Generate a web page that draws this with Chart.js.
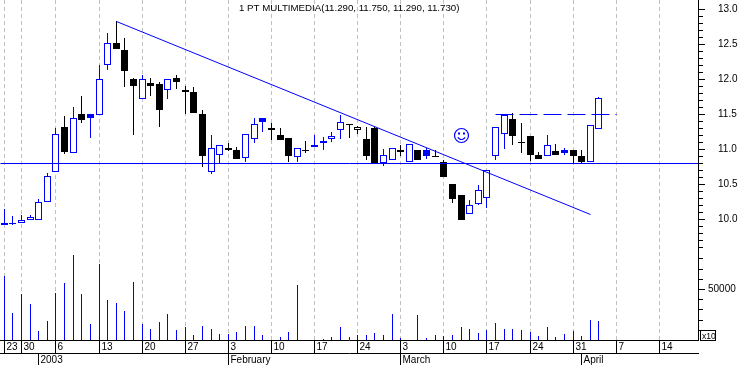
<!DOCTYPE html>
<html>
<head>
<meta charset="utf-8">
<style>html,body{margin:0;padding:0;background:#fff}canvas{display:block}</style>
<script src="https://cdn.jsdelivr.net/npm/chart.js@4"></script>
</head>
<body>
<canvas id="c" width="738" height="365"></canvas>
<script>
const titleText = "1 PT MULTIMEDIA(11.290, 11.750, 11.290, 11.730)";
const opens = [9.92,9.93,9.95,9.99,9.99,10.25,10.67,11.31,10.95,11.50,11.50,11.48,12.20,12.51,12.41,12.00,11.72,11.95,11.93,11.85,12.02,11.84,11.81,11.50,10.67,10.91,11.02,10.99,10.87,11.14,11.44,11.27,11.20,11.16,10.88,10.99,11.05,11.08,11.14,11.27,11.36,11.27,11.14,11.30,10.80,10.85,10.99,10.81,10.98,10.99,10.90,10.82,10.50,10.35,10.07,10.21,10.30,10.90,11.21,11.43,11.10,11.18,10.91,10.90,10.97,10.99,10.98,10.90,10.81,11.29];
const highs = [10.14,10.04,10.06,10.06,10.29,10.66,11.30,11.47,11.60,11.76,11.50,12.20,12.66,12.83,12.59,12.01,12.06,12.01,11.96,12.00,12.06,11.90,11.89,11.56,11.20,11.05,11.09,11.03,11.21,11.44,11.44,11.37,11.30,11.16,11.01,11.11,11.20,11.17,11.24,11.48,11.36,11.33,11.31,11.31,11.00,11.01,11.05,11.07,10.98,11.02,10.98,10.84,10.50,10.35,10.27,10.49,10.70,11.31,11.50,11.52,11.37,11.18,10.96,11.20,11.07,11.02,10.98,10.98,11.35,11.75];
const lows = [9.92,9.91,9.95,9.98,9.99,10.25,10.67,10.93,10.95,11.37,11.16,11.48,12.13,12.43,11.89,11.20,11.72,11.76,11.31,11.71,11.86,11.50,11.52,10.75,10.65,10.80,10.97,10.86,10.81,11.09,11.24,11.13,11.13,10.82,10.82,10.95,11.03,10.99,11.10,11.14,11.16,11.21,10.84,10.80,10.76,10.85,10.90,10.81,10.85,10.86,10.88,10.60,10.23,9.99,10.07,10.20,10.16,10.85,11.00,11.05,10.94,10.83,10.86,10.90,10.92,10.92,10.80,10.80,10.81,11.29];
const closes = [9.95,9.95,9.99,10.03,10.25,10.61,11.21,10.96,11.44,11.42,11.45,12.00,12.51,12.43,12.12,11.90,12.00,11.90,11.55,12.00,11.96,11.82,11.52,10.90,11.02,11.05,10.99,10.86,11.21,11.36,11.39,11.30,11.13,10.90,11.01,10.97,11.03,11.12,11.18,11.38,11.34,11.31,10.90,10.80,10.91,11.01,10.96,11.07,10.85,10.90,10.88,10.60,10.28,9.99,10.20,10.41,10.70,11.31,11.48,11.19,11.08,10.92,10.86,11.05,10.92,10.94,10.90,10.82,11.35,11.73];
const volumes = [62700,26500,45100,35300,8800,18600,46100,55900,83300,45100,15700,74500,39200,36300,28400,56800,15700,10800,17600,25500,9800,12700,4900,13700,10800,5900,5900,7800,13700,13700,4900,0,2900,7800,53900,0,0,1000,2900,12700,2900,4900,4900,6900,4900,25500,2000,0,24500,2000,4900,3900,4900,12700,10800,6900,9800,16700,10800,10800,9800,7800,3900,12700,2900,5900,8800,3900,19600,18600];
const weekTickIndex = [0,2,6,11,16,21,26,31,36,41,46,51,56,61,66,71,76];
const weekTickLabels = ["23","30","6","13","20","27","3","10","17","24","3","10","17","24","31","7","14"];
const monthTickIndex = [4,26,46,67];
const monthTickLabels = ["2003","February","March","April"];
const priceMajorTicks = [10,10.5,11,11.5,12,12.5,13];
const priceMinorTicks = [9.6,9.7,9.8,9.9,10.1,10.2,10.3,10.4,10.6,10.7,10.8,10.9,11.1,11.2,11.3,11.4,11.6,11.7,11.8,11.9,12.1,12.2,12.3,12.4,12.6,12.7,12.8,12.9];
const volumeMajorTicks = [50000];
const volumeMinorTicks = [10000,20000,30000,40000,60000,70000,80000];
const supportLevel = 10.8;
const trendFrom = [13,12.83];
const trendTo = [68,10.07];
const resistanceLevel = 11.5;
const resistanceSpan = [57,71];
const smileyAt = [53,11.2];

const BLUE = "#0000ff", BLACK = "#000000", WHITE = "#ffffff", GRID = "#c0c0c0";
const FONT = {family:"'Liberation Sans', Arial, sans-serif", size:10};
const X_MIN = -4.2/8.62, X_MAX = (698-4.2)/8.62;

const indexes = opens.map((_, i) => i);
const candleColor = indexes.map(i => (i === 0 || closes[i] >= closes[i-1]) ? BLUE : BLACK);
const candleFill = indexes.map(i => closes[i] > opens[i] ? WHITE : candleColor[i]);

function snap(scale, fn){
  if (scale.$snapped) return;
  scale.$snapped = true;
  const orig = Object.getPrototypeOf(scale).getPixelForValue;
  scale.getPixelForValue = function(v){ return fn(orig.call(scale, v)); };
}
function setTicks(values){ return scale => { scale.ticks = values.map(v => ({value:v})); }; }
function fixBox(prop, size){
  return scale => {
    scale[prop] = size;
    scale.paddingLeft = scale.paddingRight = scale.paddingTop = scale.paddingBottom = 0;
  };
}
const PRICE_RANGE = {min: 13 - 331/70, max: 13 + 9/70};
const VOL_RANGE = {min: 0, max: 340/1.02*1000};

function xAxis(values, labels, tickLen, height, weight, onArea){
  return {
    type:"linear", position:"bottom", min:X_MIN, max:X_MAX, bounds:"data", offset:false, weight,
    afterBuildTicks: setTicks(values),
    afterFit: fixBox("height", height),
    afterUpdate: s => snap(s, p => Math.floor(p) + 0.5),
    border:{display:true, color:BLACK, width:1, dash: onArea ? [4,3] : []},
    grid:{display:true, offset:false, drawOnChartArea:onArea, color:GRID, lineWidth:1,
      tickLength:tickLen, tickColor:BLACK, tickWidth:1, tickBorderDash:[]},
    ticks:{autoSkip:false, maxRotation:0, minRotation:0, align:"start", labelOffset:2,
      padding:1 - tickLen, color:BLACK, font:FONT,
      callback:(v, i) => labels[i]},
  };
}
function yAxis(range, values, tickLen, weight, labelOpts){
  return Object.assign({
    type:"linear", position:"right", bounds:"data", weight,
    afterBuildTicks: setTicks(values),
    afterFit: fixBox("width", labelOpts && labelOpts.width !== undefined ? labelOpts.width : 0),
    afterUpdate: s => {
      snap(s, p => Math.round(p));
      s._computeLabelArea = () => undefined;
    },
    border:{display:true, color:BLACK, width:1},
    grid:{drawOnChartArea:false, tickLength:tickLen, tickColor:BLACK, tickWidth:1},
    ticks: labelOpts ? {display:true, autoSkip:false, crossAlign:"near", padding:labelOpts.padding, color:BLACK, font:FONT, callback:labelOpts.cb}
                     : {display:false, autoSkip:false},
  }, range);
}

const overlay = {
  id:"overlay",
  afterDraw(chart){
    const {ctx, scales} = chart;
    ctx.save();
    ctx.fillStyle = BLACK;
    ctx.font = "9.7px " + FONT.family;
    ctx.textBaseline = "alphabetic";
    ctx.textAlign = "left";
    ctx.fillText(titleText, 239, 11);
    ctx.strokeStyle = BLACK; ctx.lineWidth = 1;
    ctx.strokeRect(700.5, 330.5, 15, 10);
    ctx.font = "8.5px " + FONT.family;
    ctx.fillText("x10", 702, 339);
    const cx = scales.x.getPixelForValue(smileyAt[0]);
    const cy = scales.y.getPixelForValue(smileyAt[1]) + 0.5;
    ctx.strokeStyle = BLUE; ctx.fillStyle = BLUE; ctx.lineWidth = 1.2;
    ctx.beginPath(); ctx.arc(cx, cy, 7, 0, Math.PI*2); ctx.stroke();
    ctx.fillRect(cx-3.5, cy-3, 2, 2);
    ctx.fillRect(cx+1.5, cy-3, 2, 2);
    ctx.beginPath(); ctx.arc(cx, cy, 4, Math.PI*0.15, Math.PI*0.85); ctx.stroke();
    ctx.restore();
  }
};

new Chart(document.getElementById("c"), {
  data:{
    datasets:[
      {type:"bar", label:"Volume", xAxisID:"x", yAxisID:"yv", order:5, grouped:false,
       barThickness:1, inflateAmount:0, borderWidth:0, backgroundColor:BLUE,
       data:indexes.map(i => ({x:i, y:volumes[i]}))},
      {type:"bar", label:"Range", xAxisID:"x", yAxisID:"y", order:4, grouped:false,
       barThickness:1, inflateAmount:0, borderWidth:0, backgroundColor:candleColor,
       data:indexes.map(i => ({x:i, y:[lows[i], highs[i]]}))},
      {type:"bar", label:"Body", xAxisID:"x", yAxisID:"y", order:3, grouped:false,
       barThickness:7, inflateAmount:0, borderWidth:1, borderSkipped:false,
       borderColor:candleColor, backgroundColor:candleFill,
       data:indexes.map(i => ({x:i, y:[opens[i], closes[i]]}))},
      {type:"line", label:"Support", xAxisID:"x", yAxisID:"yL", order:2,
       borderColor:BLUE, borderWidth:1, pointRadius:0, tension:0,
       data:[{x:X_MIN, y:supportLevel},{x:X_MAX, y:supportLevel}]},
      {type:"line", label:"Trend", xAxisID:"x", yAxisID:"yL", order:1,
       borderColor:BLUE, borderWidth:1, pointRadius:0, tension:0,
       data:[{x:trendFrom[0], y:trendFrom[1]},{x:trendTo[0], y:trendTo[1]}]},
      {type:"line", label:"Resistance", xAxisID:"x", yAxisID:"yL", order:0,
       borderColor:BLUE, borderWidth:1, borderDash:[18,6], pointRadius:0, tension:0,
       data:[{x:resistanceSpan[0], y:resistanceLevel},{x:resistanceSpan[1], y:resistanceLevel}]},
    ]
  },
  options:{
    responsive:false, animation:false, events:[],
    layout:{padding:0},
    plugins:{legend:{display:false}, title:{display:false}, tooltip:{enabled:false}},
    scales:{
      x: xAxis(weekTickIndex, weekTickLabels, 13, 13, 1, true),
      xm: xAxis(monthTickIndex, monthTickLabels, 12, 12, 2, false),
      y:  yAxis(PRICE_RANGE, priceMajorTicks, 7, 5, {width:40, padding:13, cb:v => v.toFixed(1)}),
      yMinor: yAxis(PRICE_RANGE, priceMinorTicks, 5, 1),
      yv: yAxis(VOL_RANGE, volumeMajorTicks, 7, 2, {width:0, padding:3, cb:v => String(v)}),
      yvMinor: yAxis(VOL_RANGE, volumeMinorTicks, 5, 3),
      yL: Object.assign({type:"linear", display:false, bounds:"data", position:"right", weight:0,
           afterUpdate: s => snap(s, p => Math.round(p) + 0.5)}, PRICE_RANGE),
    }
  },
  plugins:[overlay]
});
</script>
</body>
</html>
